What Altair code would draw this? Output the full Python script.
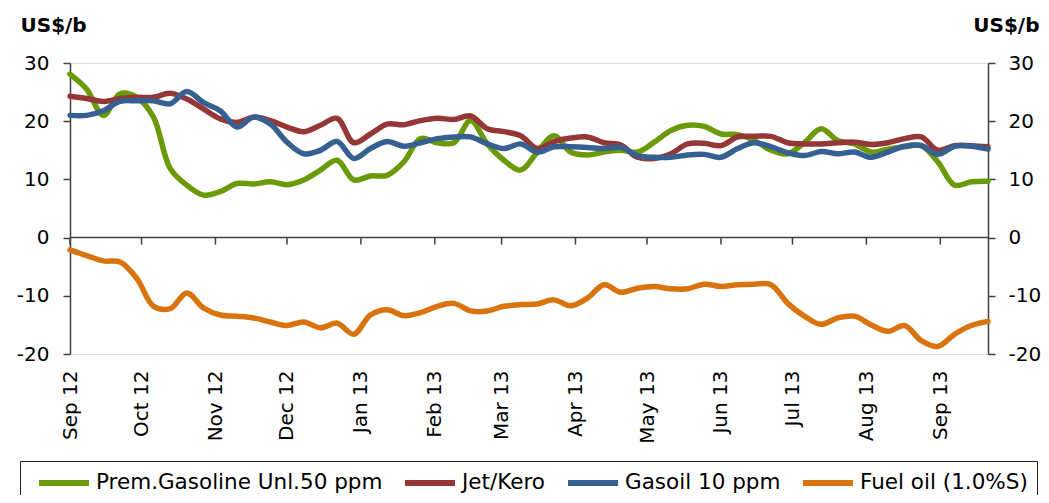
import altair as alt
import pandas as pd

# ---------------- data ----------------
week_start = "2012-09-07"
n_weeks = 56

series_names = ["Prem.Gasoline Unl.50 ppm", "Jet/Kero", "Gasoil 10 ppm", "Fuel oil (1.0%S)"]
series_colors = ["#6B9A08", "#953737", "#376092", "#D9730D"]

gasoline = [28.1, 25.5, 21.0, 24.7, 24.1, 20.7, 11.9, 9.0, 7.3, 7.9,
            9.3, 9.2, 9.6, 9.1, 9.9, 11.6, 13.3, 9.9, 10.6, 10.7,
            13.0, 17.0, 16.3, 16.3, 20.1, 16.1, 13.3, 11.6, 14.7, 17.5,
            14.7, 14.2, 14.7, 15.0, 14.7, 16.4, 18.4, 19.3, 19.1, 17.8,
            17.7, 16.7, 15.0, 14.4, 16.3, 18.7, 16.7, 16.1, 14.7, 15.2,
            15.6, 15.8, 13.0, 9.0, 9.6, 9.7]

jet = [24.3, 23.9, 23.4, 23.9, 24.1, 24.1, 24.8, 23.8, 22.1, 20.4,
       19.8, 20.7, 20.1, 19.0, 18.2, 19.3, 20.5, 16.3, 17.8, 19.5,
       19.4, 20.1, 20.5, 20.3, 20.9, 18.7, 18.2, 17.5, 15.3, 16.5,
       17.1, 17.3, 16.3, 15.9, 13.8, 13.6, 14.4, 16.1, 16.2, 15.8,
       17.3, 17.4, 17.4, 16.3, 16.1, 16.1, 16.3, 16.4, 16.0, 16.3,
       17.0, 17.3, 15.0, 15.8, 15.8, 15.6]

gasoil = [21.0, 21.0, 21.8, 23.4, 23.5, 23.5, 23.0, 25.1, 23.2, 21.8,
          19.0, 20.7, 19.5, 16.4, 14.4, 15.0, 16.5, 13.6, 15.3, 16.5,
          15.7, 16.3, 17.0, 17.3, 17.3, 16.1, 15.3, 16.1, 14.7, 15.6,
          15.6, 15.5, 15.3, 15.5, 14.1, 13.8, 13.8, 14.2, 14.3, 13.8,
          15.3, 16.3, 15.6, 14.6, 14.1, 14.8, 14.4, 14.7, 13.8, 14.7,
          15.7, 15.8, 14.3, 15.7, 15.7, 15.2]

fuel = [-2.1, -3.1, -4.0, -4.2, -7.0, -11.8, -12.2, -9.5, -12.1, -13.3,
        -13.5, -13.8, -14.5, -15.1, -14.5, -15.5, -14.7, -16.6, -13.3, -12.4,
        -13.4, -12.9, -11.8, -11.3, -12.6, -12.6, -11.8, -11.5, -11.4, -10.7,
        -11.7, -10.4, -8.1, -9.4, -8.7, -8.4, -8.8, -8.8, -8.0, -8.4,
        -8.1, -8.0, -8.1, -11.3, -13.5, -14.9, -13.8, -13.5, -15.0, -16.1,
        -15.1, -17.7, -18.7, -16.6, -15.1, -14.4]

# monthly tick positions (year, month, day)
tick_dates = [(2012, 9, 7), (2012, 10, 7), (2012, 11, 7), (2012, 12, 7),
              (2013, 1, 7), (2013, 2, 7), (2013, 3, 7), (2013, 4, 7),
              (2013, 5, 7), (2013, 6, 7), (2013, 7, 7), (2013, 8, 7),
              (2013, 9, 7)]
x_domain = [(2012, 9, 7), (2013, 9, 27)]
y_domain = [-20, 30]
y_ticks = [-20, -10, 0, 10, 20, 30]

# ---------------- tables ----------------
dates = pd.date_range(week_start, periods=n_weeks, freq="7D")
rows = []
for name, vals in zip(series_names, [gasoline, jet, gasoil, fuel]):
    for d, v in zip(dates, vals):
        rows.append({"date": d.strftime("%Y-%m-%d"), "value": v, "series": name})
df = pd.DataFrame(rows)

ticks_df = pd.DataFrame({"tick": ["%04d-%02d-%02d" % t for t in tick_dates]})
zero_df = pd.DataFrame({"z": [0]})


def dt(t):
    return alt.DateTime(year=t[0], month=t[1], date=t[2], utc=True)


FONT = "DejaVu Sans"
AX = "#404040"
HYPHEN_LABEL = "datum.value < 0 ? '-' + abs(datum.value) : '' + datum.value"

xscale = alt.Scale(type="utc", domain=[dt(x_domain[0]), dt(x_domain[1])])
yscale = alt.Scale(domain=y_domain, nice=False, zero=False)

bottom_axis = alt.Axis(
    values=[dt(t) for t in tick_dates], format="%b %y", labelAngle=270,
    domain=False, ticks=False, tickSize=0, grid=False, labelPadding=16,
    labelFont=FONT, labelFontSize=20, labelColor="#000000", title=None,
)

left_axis = alt.Axis(
    values=y_ticks, grid=False, domainColor=AX, domainWidth=1.5,
    tickColor=AX, tickWidth=1.5, tickSize=7, labelPadding=14,
    labelFont=FONT, labelFontSize=20, labelColor="#000000", labelExpr=HYPHEN_LABEL,
    title="US$/b", titleAngle=0, titleFont=FONT, titleFontSize=20,
    titleFontWeight="bold", titleColor="#000000", titleAlign="left",
    titleBaseline="middle", titleX=-50, titleY=-38,
)

right_axis = alt.Axis(
    orient="right", values=y_ticks, grid=False, domainColor=AX, domainWidth=1.5,
    tickColor=AX, tickWidth=1.5, tickSize=7, labelPadding=13,
    labelFont=FONT, labelFontSize=20, labelColor="#000000", labelExpr=HYPHEN_LABEL,
    title="US$/b", titleAngle=0, titleFont=FONT, titleFontSize=20,
    titleFontWeight="bold", titleColor="#000000", titleAlign="right",
    titleBaseline="middle", titleX=51, titleY=-38,
)

legend = alt.Legend(
    orient="none", legendX=-50, legendY=398, direction="horizontal", columns=4,
    title=None, symbolType="M-2.5,0L2.5,0", symbolSize=400, symbolStrokeWidth=6,
    symbolOffset=22, labelOffset=19,
    labelFont=FONT, labelFontSize=21.5, labelColor="#000000", labelLimit=600,
    columnPadding=10, padding=9, strokeColor="#222222",
    fillColor="#FFFFFF",
)

lines = alt.Chart(df).mark_line(
    interpolate="catmull-rom", strokeWidth=5.5, strokeCap="round"
).encode(
    x=alt.X("date:T", scale=xscale, axis=bottom_axis),
    y=alt.Y("value:Q", scale=yscale, axis=left_axis),
    color=alt.Color("series:N", scale=alt.Scale(domain=series_names, range=series_colors),
                    legend=legend),
    detail="series:N",
)

zero_line = alt.Chart(zero_df).mark_rule(color=AX, strokeWidth=1.5).encode(
    y=alt.Y("z:Q", scale=yscale, axis=right_axis),
)

tick_marks = alt.Chart(ticks_df).mark_tick(
    color=AX, thickness=1.5, size=7, yOffset=3.5, opacity=1, orient="vertical"
).encode(
    x=alt.X("tick:T", scale=xscale, axis=bottom_axis),
    y=alt.YDatum(0, scale=yscale, axis=None),
)

chart = alt.layer(lines, zero_line, tick_marks).resolve_scale(
    y="independent"
).properties(
    width=918, height=291,
    autosize=alt.AutoSizeParams(type="none"),
    padding={"left": 62, "top": 55, "right": 53, "bottom": 141},
).configure_view(strokeWidth=0).configure(background="white")

chart.save("out.html", embed_options={"renderer": "svg", "actions": False})
